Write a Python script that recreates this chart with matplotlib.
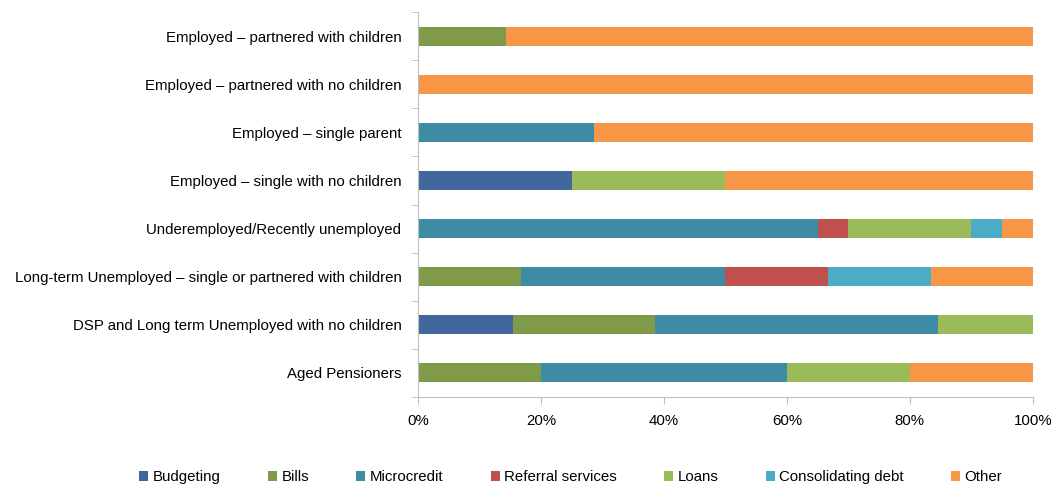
import numpy as np
import matplotlib.pyplot as plt

plt.rcParams['font.family'] = ['Liberation Sans', 'DejaVu Sans']

# категории (сверху вниз)
groups = ['Employed \u2013 partnered with children',
          'Employed \u2013 partnered with no children',
          'Employed \u2013 single parent',
          'Employed \u2013 single with no children',
          'Underemployed/Recently unemployed',
          'Long-term Unemployed \u2013 single or partnered with children',
          'DSP and Long term Unemployed with no children',
          'Aged Pensioners']

series = ['Budgeting', 'Bills', 'Microcredit', 'Referral services',
          'Loans', 'Consolidating debt', 'Other']
colors = ['#41679C', '#7F9A48', '#3D8BA4', '#C0504D', '#9BBB59', '#4BACC6', '#F79646']

# доли, %
budgeting = [0, 0, 0, 25, 0, 0, 15.4, 0]
bills = [14.3, 0, 0, 0, 0, 16.7, 23.1, 20]
microcredit = [0, 0, 28.6, 0, 65, 33.3, 46.1, 40]
referral = [0, 0, 0, 0, 5, 16.7, 0, 0]
loans = [0, 0, 0, 25, 20, 0, 15.4, 20]
consolidating = [0, 0, 0, 0, 5, 16.7, 0, 0]
other = [85.7, 100, 71.4, 50, 5, 16.6, 0, 20]

data = [budgeting, bills, microcredit, referral, loans, consolidating, other]

fig = plt.figure(figsize=(10.57, 4.87), dpi=100)
ax = fig.add_axes([0.3955, 0.185, 0.5815, 0.79])

y = np.arange(len(groups))
left = np.zeros(len(groups))
for name, vals, c in zip(series, data, colors):
    vals = np.array(vals)
    ax.barh(y, vals, left=left, height=0.4, color=c, label=name)
    left += vals

fs = 10.8
ax.set_ylim(len(groups) - 0.5, -0.5)
ax.set_xlim(0, 100)
ax.set_xticks(np.arange(0, 101, 20))
ax.set_xticklabels([f'{v}%' for v in range(0, 101, 20)], fontsize=fs)
ax.set_yticks(y)
ax.set_yticklabels(groups, fontsize=fs)
ax.tick_params(axis='y', length=0, pad=12)
ax.set_yticks(np.arange(-0.5, len(groups), 1), minor=True)
ax.tick_params(axis='y', which='minor', length=5, color='#BFBFBF')
ax.tick_params(axis='x', length=5, color='#BFBFBF', pad=7)
for s in ['top', 'right']:
    ax.spines[s].set_visible(False)
for s in ['left', 'bottom']:
    ax.spines[s].set_color('#BFBFBF')

fig.legend(loc='center', bbox_to_anchor=(0.54, 0.02), ncol=7, frameon=False,
           fontsize=fs, handlelength=0.6, handleheight=0.6, handletextpad=0.3,
           columnspacing=3.15)

plt.savefig('out.png')
